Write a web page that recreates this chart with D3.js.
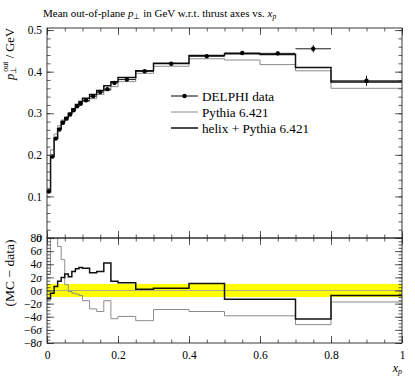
<!DOCTYPE html>
<html>
<head>
<meta charset="utf-8">
<script src="https://cdn.jsdelivr.net/npm/d3@7"></script>
<style>
body { margin: 0; background: #fff; }
svg { font-family: "Liberation Serif", serif; }
</style>
</head>
<body>
<svg width="415" height="380"></svg>
<script>
// bin edges in x_p
const edges = [0, 0.01, 0.02, 0.03, 0.04, 0.05, 0.06, 0.07, 0.08, 0.09, 0.10,
  0.12, 0.14, 0.16, 0.18, 0.20, 0.25, 0.30, 0.40, 0.50, 0.60, 0.70, 0.80, 1.00];

// DELPHI data, <p_T out> in GeV
const dataVal = [0.112, 0.196, 0.239, 0.261, 0.277, 0.287, 0.297, 0.307, 0.317, 0.323, 0.331,
  0.341, 0.351, 0.358, 0.373, 0.381, 0.401, 0.419, 0.437, 0.445, 0.444, 0.455, 0.378];
const dataErr = [0.001, 0.001, 0.001, 0.001, 0.001, 0.001, 0.001, 0.001, 0.001, 0.001, 0.001,
  0.0015, 0.0015, 0.002, 0.002, 0.002, 0.003, 0.003, 0.003, 0.004, 0.005, 0.009, 0.012];

// MC predictions
const pythia = [0.116, 0.212, 0.250, 0.270, 0.284, 0.288, 0.297, 0.306, 0.316, 0.322, 0.328,
  0.335, 0.345, 0.355, 0.364, 0.376, 0.396, 0.413, 0.431, 0.428, 0.417, 0.402, 0.360];
const helix = [0.111, 0.196, 0.240, 0.263, 0.280, 0.290, 0.300, 0.311, 0.321, 0.328, 0.336,
  0.345, 0.355, 0.366, 0.376, 0.386, 0.402, 0.420, 0.439, 0.443, 0.441, 0.410, 0.375];

// (MC - data) in units of sigma
const pythiaDev = [2.5, 12, 12, 6.7, 4.7, 0.9, -0.15, -0.4, -0.55, -0.75, -1.55,
  -2.8, -3.2, -1.55, -4.3, -3.95, -4.6, -2.9, -3.2, -3.85, -3.85, -5.2, -1.75];
const helixDev = [-1.25, -0.4, 0.6, 1.4, 2.0, 2.5, 2.1, 2.9, 3.3, 3.5, 3.4,
  2.7, 2.9, 4.2, 1.4, 1.2, 0.2, 0.35, 1.05, -1.35, -1.35, -4.35, -0.75];

const xMajor = [0, 0.2, 0.4, 0.6, 0.8, 1];
const yMajor = [0, 0.1, 0.2, 0.3, 0.4, 0.5];
const rMajor = [-8, -6, -4, -2, 0, 2, 4, 6, 8];

const svg = d3.select("svg");
const pLeft = 47, pRight = 402, pTop = 28, pMid = 238, pBottom = 343;

const x = d3.scaleLinear().domain([0, 1]).range([pLeft, pRight]);
const y = d3.scaleLinear().domain([0, 0.505]).range([pMid, pTop]);
const r = d3.scaleLinear().domain([-8, 8]).range([pBottom, pMid]);

const xMinor = d3.range(0, 1.0001, 0.05);
const yMinor = d3.range(0, 0.5001, 0.02);
const rMinor = d3.range(-8, 8.0001, 0.5);

// histogram as a step outline
const steps = vals => vals.flatMap((v, i) => [[edges[i], v], [edges[i + 1], v]]);

svg.append("clipPath").attr("id", "clipR")
  .append("rect").attr("x", pLeft).attr("y", pMid).attr("width", pRight - pLeft).attr("height", pBottom - pMid);
svg.append("clipPath").attr("id", "clipM")
  .append("rect").attr("x", pLeft).attr("y", pTop).attr("width", pRight - pLeft).attr("height", pMid - pTop);

// ---- ratio band
svg.append("rect")
  .attr("x", pLeft).attr("width", pRight - pLeft)
  .attr("y", r(1)).attr("height", r(-1) - r(1))
  .attr("fill", "#ffff00");
svg.append("line")
  .attr("x1", pLeft).attr("x2", pRight).attr("y1", r(0)).attr("y2", r(0))
  .attr("stroke", "#999").attr("stroke-width", 0.8);

const lineM = d3.line().x(d => x(d[0])).y(d => y(d[1]));
const lineR = d3.line().x(d => x(d[0])).y(d => r(d[1]));

[[pythia, pythiaDev, "#8c8c8c", 1], [helix, helixDev, "#111", 1.5]].forEach(([vals, dev, col, w]) => {
  svg.append("path").datum(steps(vals))
    .attr("clip-path", "url(#clipM)")
    .attr("fill", "none").attr("stroke", col).attr("stroke-width", w)
    .attr("d", lineM);
  svg.append("path").datum(steps(dev))
    .attr("clip-path", "url(#clipR)")
    .attr("fill", "none").attr("stroke", col).attr("stroke-width", w)
    .attr("d", lineR);
});

// ---- data points
const pts = dataVal.map((v, i) => ({ lo: edges[i], hi: edges[i + 1], v: v, e: dataErr[i] }));
const gp = svg.append("g").attr("stroke", "#000").attr("stroke-width", 0.9);
gp.selectAll(".xerr").data(pts).enter().append("line")
  .attr("x1", d => x(d.lo)).attr("x2", d => x(d.hi))
  .attr("y1", d => y(d.v)).attr("y2", d => y(d.v));
gp.selectAll(".yerr").data(pts).enter().append("line")
  .attr("x1", d => x((d.lo + d.hi) / 2)).attr("x2", d => x((d.lo + d.hi) / 2))
  .attr("y1", d => y(d.v - d.e)).attr("y2", d => y(d.v + d.e));
svg.selectAll(".pt").data(pts).enter().append("circle")
  .attr("cx", d => x((d.lo + d.hi) / 2)).attr("cy", d => y(d.v))
  .attr("r", 2.2).attr("fill", "#000");

// ---- axes (ticks pointing inward)
function ticks(axis, vals, size, tr, fmt) {
  const g = svg.append("g").attr("transform", tr)
    .call(axis.tickValues(vals).tickSize(-size).tickPadding(5).tickFormat(fmt || ""));
  g.select(".domain").remove();
  g.selectAll("line").attr("stroke", "#333").attr("stroke-width", 0.8);
  g.selectAll("text").attr("font-family", "Liberation Serif, serif").attr("font-size", 11.5).attr("fill", "#000");
  return g;
}
[pMid, pBottom].forEach(yy => {
  ticks(d3.axisBottom(x), xMinor, 3.5, `translate(0,${yy})`);
  ticks(d3.axisBottom(x), xMajor, 7, `translate(0,${yy})`);
});
[pTop, pMid].forEach(yy => {
  ticks(d3.axisTop(x), xMinor, 3.5, `translate(0,${yy})`);
  ticks(d3.axisTop(x), xMajor, 7, `translate(0,${yy})`);
});
ticks(d3.axisBottom(x), xMajor, 0, `translate(0,${pBottom + 3})`, d => d === 0 || d === 1 ? d : d3.format(".1f")(d));

ticks(d3.axisLeft(y), yMinor, 3.5, `translate(${pLeft},0)`);
ticks(d3.axisLeft(y), yMajor, 7, `translate(${pLeft},0)`, d => d === 0 ? "0" : d3.format(".1f")(d));
ticks(d3.axisRight(y), yMinor, 3.5, `translate(${pRight},0)`);
ticks(d3.axisRight(y), yMajor, 7, `translate(${pRight},0)`);

ticks(d3.axisLeft(r), rMinor, 3.5, `translate(${pLeft},0)`);
const gl = ticks(d3.axisLeft(r), rMajor, 7, `translate(${pLeft},0)`, d => (d < 0 ? "\u2212" + (-d) : d));
gl.selectAll("text").append("tspan").attr("font-style", "italic").text("\u03c3");
ticks(d3.axisRight(r), rMinor, 3.5, `translate(${pRight},0)`);
ticks(d3.axisRight(r), rMajor, 7, `translate(${pRight},0)`);

// frames
[[pTop, pMid], [pMid, pBottom]].forEach(([a, b]) => {
  svg.append("rect").attr("x", pLeft).attr("y", a).attr("width", pRight - pLeft).attr("height", b - a)
    .attr("fill", "none").attr("stroke", "#222").attr("stroke-width", 0.9);
});

// ---- legend
const legend = [
  { label: "DELPHI data", col: "#000", w: 1, dot: true },
  { label: "Pythia 6.421", col: "#8c8c8c", w: 1 },
  { label: "helix + Pythia 6.421", col: "#111", w: 1.5 }
];
const lg = svg.append("g").attr("transform", "translate(171,96)");
legend.forEach((d, i) => {
  const g = lg.append("g").attr("transform", `translate(0,${i * 16})`);
  g.append("line").attr("x1", 0).attr("x2", 27).attr("stroke", d.col).attr("stroke-width", d.w);
  if (d.dot) g.append("circle").attr("cx", 13.5).attr("r", 2.2).attr("fill", "#000");
  g.append("text").attr("x", 31).attr("dy", "0.35em").attr("font-size", 13.2).text(d.label);
});

// ---- titles
const title = svg.append("text").attr("x", 43).attr("y", 17)
  .attr("text-anchor", "start").attr("font-size", 11);
title.append("tspan").text("Mean out-of-plane ");
title.append("tspan").attr("font-style", "italic").text("p");
title.append("tspan").attr("font-size", 7.5).attr("dy", 2).text("\u22a5");
title.append("tspan").attr("dy", -2).text(" in GeV w.r.t. thrust axes vs. ");
title.append("tspan").attr("font-style", "italic").text("x");
title.append("tspan").attr("font-style", "italic").attr("font-size", 7.5).attr("dy", 2).text("p");

const xl = svg.append("text").attr("x", pRight).attr("y", 372).attr("text-anchor", "end").attr("font-size", 12);
xl.append("tspan").attr("font-style", "italic").text("x");
xl.append("tspan").attr("font-style", "italic").attr("font-size", 8).attr("dy", 2).text("p");

const yl = svg.append("text").attr("transform", "translate(14,54) rotate(-90)")
  .attr("text-anchor", "middle").attr("font-size", 12.5);
yl.append("tspan").attr("font-style", "italic").text("p");
yl.append("tspan").attr("font-size", 8).attr("dy", 2).text("\u22a5");
yl.append("tspan").attr("font-size", 8).attr("dx", -5).attr("dy", -8).text("out");
yl.append("tspan").attr("dy", 6).text(" / GeV");

svg.append("text").attr("transform", "translate(14,273) rotate(-90)")
  .attr("text-anchor", "middle").attr("font-size", 13.5).text("(MC \u2212 data)");
</script>
</body>
</html>
